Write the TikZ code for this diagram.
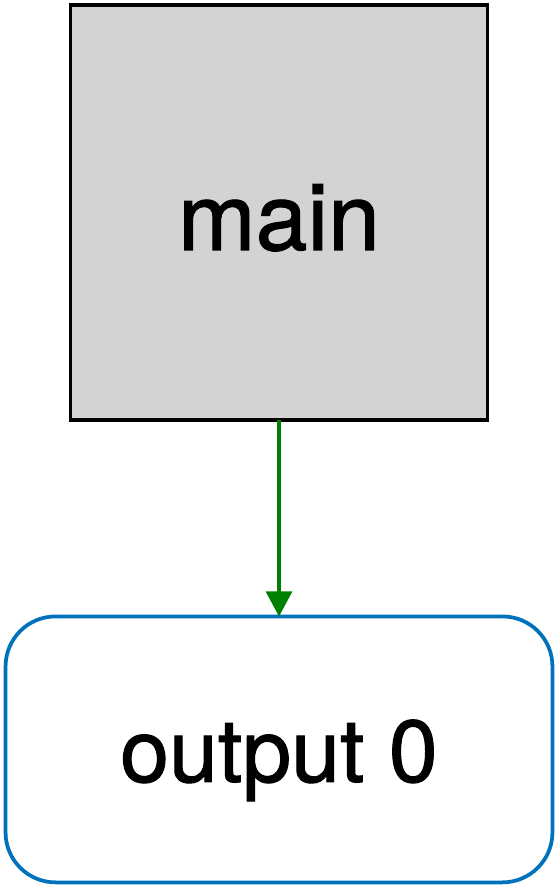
\documentclass[tikz,border=0pt]{standalone}
\usepackage{fontspec}
\setmainfont{TeX Gyre Heros}
\newfontfamily\labelfont[FakeBold=1.2]{TeX Gyre Heros}
\usetikzlibrary{arrows.meta, positioning}
\definecolor{BoxGray}{RGB}{211, 211, 211}
\definecolor{EdgeGreen}{RGB}{0, 128, 0}
\definecolor{OutBlue}{RGB}{0, 114, 188}

\begin{document}
\begin{tikzpicture}[x=0.02cm, y=-0.02cm, node distance=3.93cm,
    funcbox/.style={draw=black, line width=0.075cm, fill=BoxGray, minimum width=8.34cm, minimum height=8.3cm, outer sep=0pt, inner sep=0pt, text height=1.5cm, text depth=0pt, font=\labelfont\fontsize{53}{60}\selectfont},
    outbox/.style={draw=OutBlue, line width=0.075cm, fill=white, rounded corners=1cm, minimum width=10.94cm, minimum height=5.32cm, outer sep=0pt, inner sep=0pt, text height=1.3cm, text depth=0pt, font=\labelfont\fontsize{50}{60}\selectfont},
    flow/.style={-{Triangle[length=0.5cm, width=0.52cm]}, line width=0.065cm, EdgeGreen}]
    \useasboundingbox (0,0) rectangle (558,888);
    \node[funcbox] (main) at (279,212.5) {main};
    \node[outbox, below=of main] (out0) {output 0};
    \draw[flow] (main) -- (out0);
\end{tikzpicture}
\end{document}
